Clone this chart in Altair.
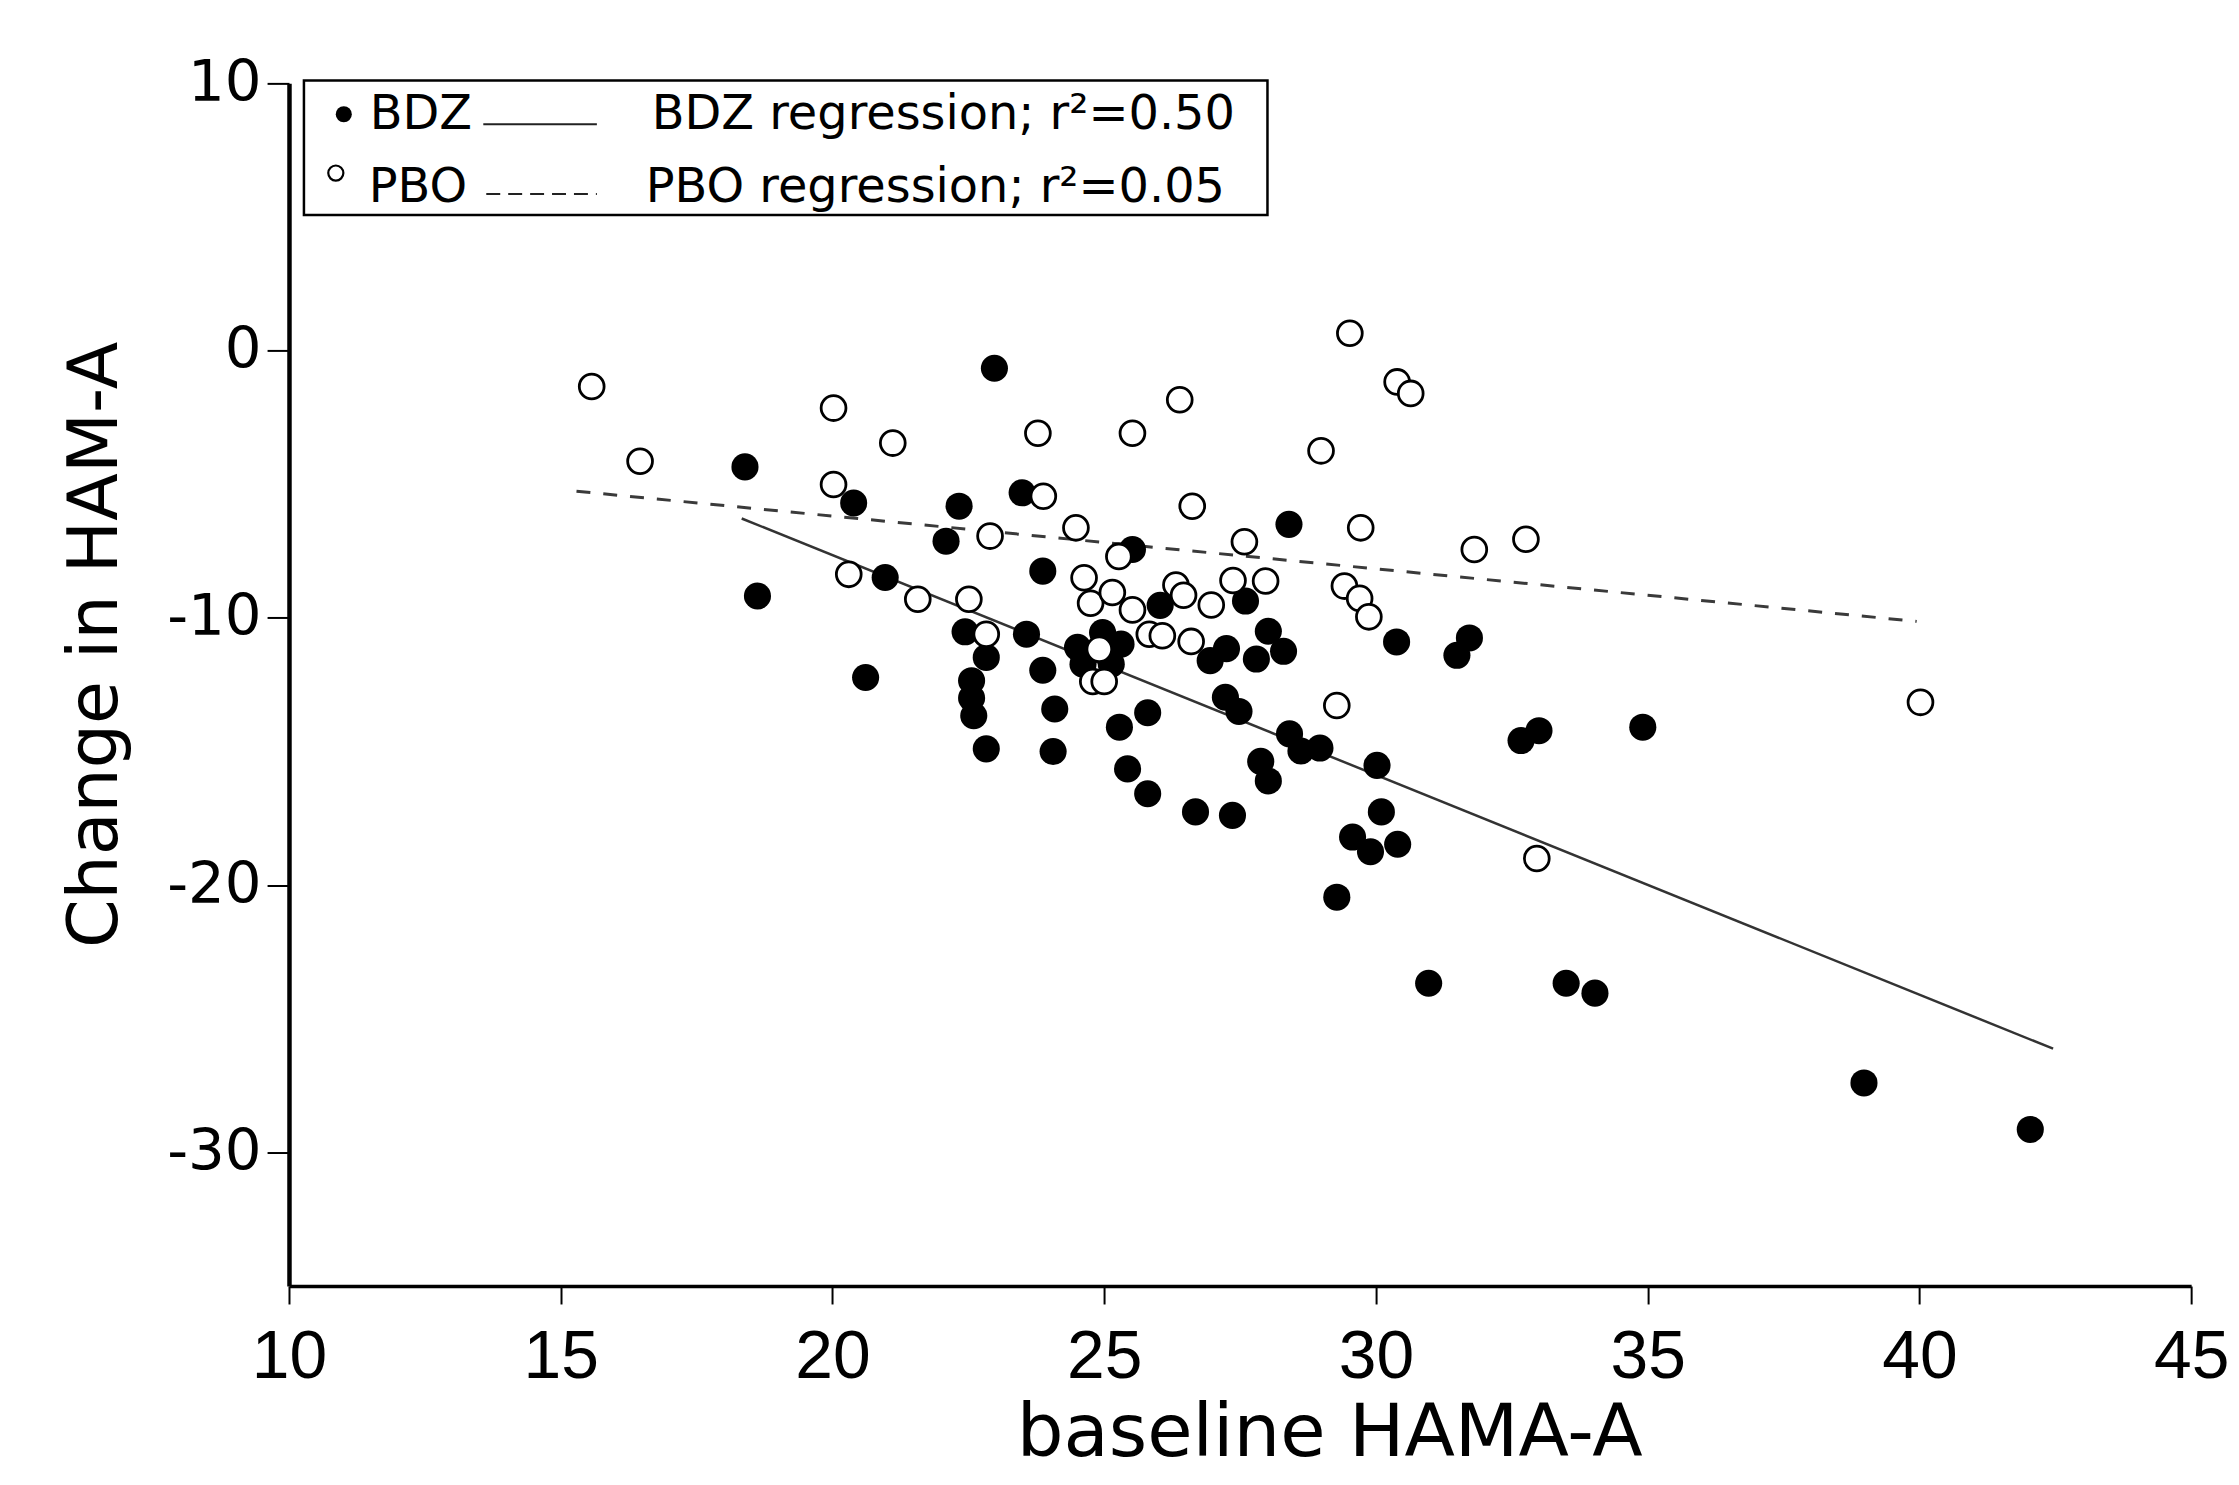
import altair as alt
import pandas as pd

# ---------------- data ----------------
bdz_x = [18.39, 18.62, 20.39, 20.61, 20.97, 22.09, 22.33, 22.98, 22.44, 22.56,
         22.56, 22.60, 22.83, 22.83, 23.49, 23.57, 23.87, 23.87, 24.09, 24.06,
         24.51, 25.31, 24.97, 24.61, 25.13, 25.52, 25.28, 25.80, 25.43, 25.80,
         26.03, 26.68, 26.95, 27.25, 27.23, 27.48, 27.36, 27.60, 27.80, 28.02,
         28.30, 28.40, 27.88, 28.02, 28.41, 28.62, 28.97, 29.28, 29.57, 29.90,
         30.02, 30.10, 30.40, 30.38, 30.97, 31.49, 31.72, 32.67, 33.00, 33.50,
         34.03, 34.91, 38.98, 42.04]
bdz_y = [-4.35, -9.18, -5.70, -12.23, -8.49, -7.13, -5.82, -0.66, -10.52, -12.35,
         -13.00, -13.66, -11.48, -14.90, -5.32, -10.61, -8.25, -11.96, -13.41, -15.00,
         -11.10, -10.98, -10.55, -11.73, -11.73, -7.44, -14.09, -13.55, -15.65, -16.58,
         -9.53, -17.26, -11.60, -11.15, -12.97, -13.50, -17.39, -9.37, -11.54, -10.50,
         -11.25, -6.50, -15.37, -16.10, -14.34, -14.98, -14.87, -20.45, -18.20, -18.75,
         -15.52, -17.26, -18.47, -10.90, -23.67, -11.40, -10.75, -14.59, -14.22, -23.67,
         -24.04, -14.09, -27.40, -29.14]

pbo_x = [15.57, 16.46, 20.02, 21.11, 20.02, 20.30, 21.57, 22.90, 22.51, 22.83,
         23.78, 23.88, 24.48, 25.52, 26.39, 26.62, 24.63, 24.75, 25.27, 25.15,
         25.52, 25.83, 26.07, 24.91, 24.79, 25.00, 26.32, 26.46, 26.60, 26.97,
         27.37, 27.58, 27.97, 28.99, 29.52, 29.72, 29.42, 29.70, 29.87, 29.28,
         30.39, 30.64, 31.81, 32.76, 32.96, 40.02]
pbo_y = [-1.34, -4.14, -2.15, -3.46, -5.01, -8.37, -9.30, -6.94, -9.30, -10.61,
         -3.09, -5.45, -6.63, -3.09, -1.84, -5.82, -8.50, -9.45, -7.70, -9.05,
         -9.70, -10.61, -10.67, -11.17, -12.38, -12.38, -8.77, -9.15, -10.88, -9.52,
         -8.60, -7.15, -8.62, -3.75, 0.65, -6.63, -8.81, -9.27, -9.96, -13.28,
         -1.17, -1.60, -7.44, -7.06, -19.00, -13.16]

bdz_fit_x = [18.33, 42.46]
bdz_fit_y = [-6.28, -26.12]
pbo_fit_x = [15.29, 39.95]
pbo_fit_y = [-5.26, -10.13]

x_ticks = [10, 15, 20, 25, 30, 35, 40, 45]
y_ticks = [-30, -20, -10, 0, 10]
x_domain = [10, 45]
y_domain = [-35, 10]

legend_labels = ["BDZ", "BDZ regression; r\u00b2=0.50", "PBO", "PBO regression; r\u00b2=0.05"]
x_title = "baseline HAMA-A"
y_title = "Change in HAM-A"

# ---------------- tables ----------------
bdz = pd.DataFrame({"x": bdz_x, "y": bdz_y})
pbo = pd.DataFrame({"x": pbo_x, "y": pbo_y})
bdz_fit = pd.DataFrame({"x": bdz_fit_x, "y": bdz_fit_y})
pbo_fit = pd.DataFrame({"x": pbo_fit_x, "y": pbo_fit_y})
one = pd.DataFrame({"a": [0]})

W, H = 1909, 1207

xs = alt.Scale(domain=x_domain, nice=False, zero=False)
ys = alt.Scale(domain=y_domain, nice=False, zero=False)

x_axis = alt.Axis(values=x_ticks, title=x_title, grid=False,
                  domainColor="black", domainWidth=3.5,
                  tickColor="black", tickWidth=2, tickSize=18,
                  labelFont="Liberation Sans", labelFontSize=68, labelColor="black",
                  labelPadding=20, labelFlush=False, labelOverlap=False,
                  titleFont="DejaVu Sans", titleFontSize=74, titleFontWeight="normal",
                  titleColor="black", titleX=1044, titleY=170,
                  titleAlign="center", titleBaseline="alphabetic")
y_axis = alt.Axis(values=y_ticks, title=y_title, grid=False,
                  domainColor="black", domainWidth=4.5,
                  tickColor="black", tickWidth=2, tickSize=22,
                  labelFont="DejaVu Sans", labelFontSize=58, labelColor="black",
                  labelPadding=6, labelFlush=False, labelOverlap=False,
                  labelExpr="datum.value < 0 ? '-' + toString(-datum.value) : toString(datum.value)",
                  titleFont="DejaVu Sans", titleFontSize=70, titleFontWeight="normal",
                  titleColor="black", titleX=-173, titleY=563, titleAngle=270,
                  titleAlign="center", titleBaseline="alphabetic")

X = alt.X("x:Q", scale=xs, axis=x_axis)
Y = alt.Y("y:Q", scale=ys, axis=y_axis)

bdz_line = alt.Chart(bdz_fit).mark_line(color="#333333", strokeWidth=2.5).encode(x=X, y=Y)
pbo_line = alt.Chart(pbo_fit).mark_line(color="#3a3a3a", strokeWidth=3,
                                        strokeDash=[14, 13]).encode(x=X, y=Y)
bdz_pts = alt.Chart(bdz).mark_point(shape="circle", filled=True, color="black",
                                    size=740, opacity=1).encode(x=X, y=Y)
pbo_pts = alt.Chart(pbo).mark_point(shape="circle", filled=True, fill="white",
                                    stroke="black", strokeWidth=2.8, size=620,
                                    opacity=1).encode(x=X, y=Y)

# ---------------- legend ----------------
box = alt.Chart(one).mark_rect(fillOpacity=0, stroke="black", strokeWidth=2.5).encode(
    x=alt.value(15), x2=alt.value(982), y=alt.value(-3), y2=alt.value(132))
leg_dot = alt.Chart(one).mark_point(shape="circle", filled=True, color="black",
                                    size=260, opacity=1).encode(x=alt.value(55), y=alt.value(31))
leg_ring = alt.Chart(one).mark_point(shape="circle", filled=True, fill="white",
                                     stroke="black", strokeWidth=2.2, size=230,
                                     opacity=1).encode(x=alt.value(47), y=alt.value(90))
leg_solid = alt.Chart(one).mark_rule(color="#222222", strokeWidth=2.2).encode(
    x=alt.value(195), x2=alt.value(309), y=alt.value(41))
leg_dash = alt.Chart(one).mark_rule(color="#222222", strokeWidth=2.2, strokeDash=[14, 8]).encode(
    x=alt.value(198), x2=alt.value(309), y=alt.value(111))

def leg_text(label, px, py):
    return alt.Chart(one).mark_text(align="left", baseline="alphabetic", font="DejaVu Sans",
                                    fontSize=48, color="black").encode(
        x=alt.value(px), y=alt.value(py), text=alt.value(label))

t1 = leg_text(legend_labels[0], 81, 46)
t2 = leg_text(legend_labels[1], 364, 46)
t3 = leg_text(legend_labels[2], 80, 119)
t4 = leg_text(legend_labels[3], 358, 119)

chart = alt.layer(
    bdz_line, pbo_line, bdz_pts, pbo_pts,
    box, leg_dot, leg_ring, leg_solid, leg_dash, t1, t2, t3, t4
).properties(
    width=W, height=H,
    autosize=alt.AutoSizeParams(type="none"),
    padding={"left": 282, "top": 73, "right": 40, "bottom": 190},
    background="white",
).configure_view(strokeWidth=0)

chart.save("out.html", embed_options={"renderer": "svg", "actions": False})
